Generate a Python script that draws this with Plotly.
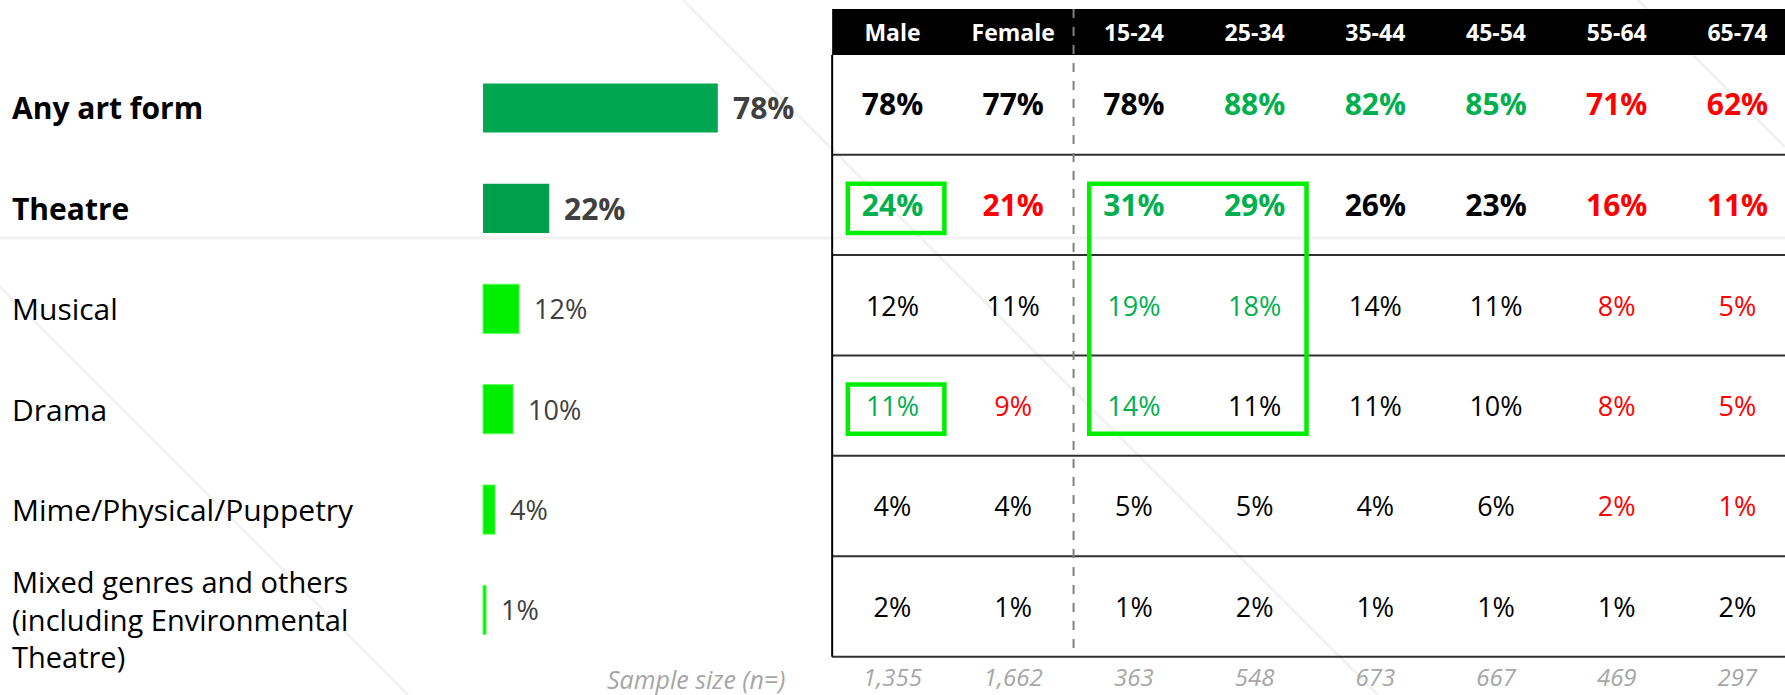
import plotly.graph_objects as go

# ---------------- data ----------------
categories = [
    "Any art form",
    "Theatre",
    "Musical",
    "Drama",
    "Mime/Physical/Puppetry",
    "Mixed genres and others<br>(including Environmental<br>Theatre)",
]
overall = [78, 22, 12, 10, 4, 1]

columns = ["Male", "Female", "15-24", "25-34", "35-44", "45-54", "55-64", "65-74"]

any_art_form = [78, 77, 78, 88, 82, 85, 71, 62]
theatre = [24, 21, 31, 29, 26, 23, 16, 11]
musical = [12, 11, 19, 18, 14, 11, 8, 5]
drama = [11, 9, 14, 11, 11, 10, 8, 5]
mime = [4, 4, 5, 5, 4, 6, 2, 1]
mixed = [2, 1, 1, 2, 1, 1, 1, 2]

# significance flags: "+" higher, "-" lower, "" not significant
flags_any = ["", "", "", "+", "+", "+", "-", "-"]
flags_theatre = ["+", "-", "+", "+", "", "", "-", "-"]
flags_musical = ["", "", "+", "+", "", "", "-", "-"]
flags_drama = ["+", "-", "+", "", "", "", "-", "-"]
flags_mime = ["", "", "", "", "", "", "-", "-"]
flags_mixed = ["", "", "", "", "", "", "", ""]

sample_sizes = ["1,355", "1,662", "363", "548", "673", "667", "469", "297"]

table_rows = [any_art_form, theatre, musical, drama, mime, mixed]
table_flags = [flags_any, flags_theatre, flags_musical, flags_drama, flags_mime, flags_mixed]

# highlighted boxes: (first col, last col, first row, last row)
highlights = [(0, 0, 1, 1), (0, 0, 3, 3), (2, 3, 1, 3)]

# ---------------- style ----------------
FONT = "Open Sans"
GREEN_TXT = "#00B050"
RED_TXT = "#FF0000"
flag_color = {"+": GREEN_TXT, "-": RED_TXT, "": "#000000"}
bar_colors = ["#00A651", "#009F4C", "#00EE00", "#00EE00", "#00EE00", "#00EE00"]

rows = list(range(len(categories)))
cols = list(range(len(columns)))
bold_rows = {0, 1}

fig = go.Figure()

# bars
fig.add_trace(go.Bar(
    y=rows, x=overall, orientation="h", width=0.49,
    marker=dict(color=bar_colors, line=dict(color="#5cff5c", width=[0, 0, 1, 1, 1, 1])),
    xaxis="x", yaxis="y", hoverinfo="skip",
))

# table cells
for r, (vals, flg) in enumerate(zip(table_rows, table_flags)):
    fig.add_trace(go.Scatter(
        x=cols, y=[r] * len(cols), mode="text",
        text=[f"{v}%" for v in vals],
        textfont=dict(family=FONT, size=30 if r in bold_rows else 27,
                      color=[flag_color[f] for f in flg],
                      weight=700 if r in bold_rows else 400),
        xaxis="x2", yaxis="y", cliponaxis=False, hoverinfo="skip",
    ))

# header
fig.add_trace(go.Scatter(
    x=cols, y=[-0.727] * len(cols), mode="text", text=columns,
    textfont=dict(family=FONT, size=23, color="white", weight=700),
    xaxis="x2", yaxis="y", cliponaxis=False, hoverinfo="skip",
))

# sample sizes
fig.add_trace(go.Scatter(
    x=cols, y=[5.7] * len(cols), mode="text", text=sample_sizes,
    textfont=dict(family=FONT, size=24, color="#a6a6a6", style="italic"),
    xaxis="x2", yaxis="y", cliponaxis=False, hoverinfo="skip",
))

annotations = []
# category labels
for r, cat in enumerate(categories):
    multiline = "<br>" in cat
    annotations.append(dict(
        x=10 / 1785, xref="paper", y=r, yref="y", text=cat, showarrow=False,
        xanchor="left", yanchor="middle", align="left", yshift=-9 if multiline else 0,
        font=dict(family=FONT, size=29 if multiline else 30, color="#000000",
                  weight=700 if r in bold_rows else 400),
    ))
# bar value labels
for r, v in enumerate(overall):
    annotations.append(dict(
        x=v, xref="x", y=r, yref="y", text=f"{v}%", showarrow=False,
        xanchor="left", yanchor="middle", xshift=13,
        font=dict(family=FONT, size=30 if r in bold_rows else 27, color="#404040",
                  weight=700 if r in bold_rows else 400),
    ))
annotations.append(dict(
    x=-0.88, xref="x2", y=5.69, yref="y", text="Sample size (n=)", showarrow=False,
    xanchor="right", yanchor="middle", borderpad=0,
    font=dict(family=FONT, size=25, color="#a6a6a6", style="italic"),
))

shapes = []
# faint background lines
for (x0, y0, x1, y1) in [(683, 0, 1378, 695), (0, 287, 408, 695), (1638, 0, 1785, 147), (0, 238, 1785, 238)]:
    shapes.append(dict(type="line", xref="paper", yref="paper",
                       x0=x0 / 1785, y0=1 - y0 / 695, x1=x1 / 1785, y1=1 - y1 / 695,
                       line=dict(color="#f2f2f2", width=3), layer="below"))
# header band
shapes.append(dict(type="rect", xref="x2", yref="y", x0=-0.5, x1=7.7, y0=-0.986, y1=-0.528,
                   fillcolor="black", line=dict(width=0), layer="below"))
# row separators
for r in rows:
    shapes.append(dict(type="line", xref="x2", yref="y", x0=-0.5, x1=7.7, y0=r + 0.465, y1=r + 0.465,
                       line=dict(color="#303030", width=2)))
# left border
shapes.append(dict(type="line", xref="x2", yref="y", x0=-0.5, x1=-0.5, y0=-0.528, y1=5.465,
                   line=dict(color="#000000", width=2)))
# dashed divider between gender and age
shapes.append(dict(type="line", xref="x2", yref="y", x0=1.5, x1=1.5, y0=-0.986, y1=5.465,
                   line=dict(color="#808080", width=2, dash="dash")))
# highlight boxes
for c0, c1, r0, r1 in highlights:
    shapes.append(dict(type="rect", xref="x2", yref="y",
                       x0=c0 - 0.37, x1=c1 + 0.43, y0=r0 - 0.245, y1=r1 + 0.245,
                       line=dict(color="#00EE00", width=4.5)))

fig.update_layout(
    width=1785, height=695,
    margin=dict(l=0, r=0, t=0, b=0),
    paper_bgcolor="white", plot_bgcolor="white",
    showlegend=False,
    xaxis=dict(domain=[0, 1], range=[-160.5, 432.6], visible=False, fixedrange=True),
    xaxis2=dict(domain=[0, 1], range=[-7.394, 7.394], overlaying="x", visible=False, fixedrange=True),
    yaxis=dict(domain=[0, 1], range=[5.847, -1.0757], visible=False, fixedrange=True),
    annotations=annotations,
    shapes=shapes,
    bargap=0,
)

fig.write_html(
    "out.html",
    config={"displayModeBar": False, "staticPlot": True},
    post_script="document.body.style.margin='0px';document.body.style.overflow='hidden';",
)
